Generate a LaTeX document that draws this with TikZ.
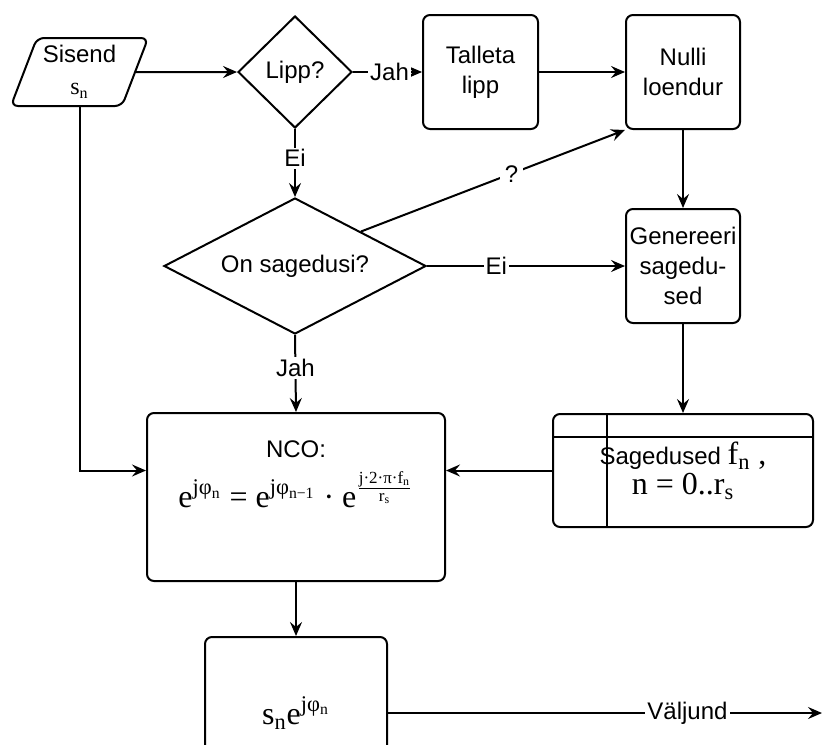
\documentclass[tikz,border=0pt]{standalone}
\usepackage{fontspec}
\setmainfont{Liberation Sans}
\newfontfamily\tms{Liberation Serif}
\usetikzlibrary{shapes.geometric, arrows.meta}

\tikzset{
  box/.style={draw, line width=1pt, rounded corners=3.5pt, align=center, inner sep=1pt},
  decision/.style={draw, line width=1pt, diamond, inner sep=0pt, align=center},
  flow/.style={line width=1pt, -{Stealth[length=7pt,width=6pt,inset=2.5pt]}},
  lbl/.style={fill=white, inner sep=1pt, font=\fontsize{12}{14}\selectfont},
}
\newcommand{\serif}[1]{{\tms\fontsize{16}{18}\selectfont #1}}

\begin{document}
\begin{tikzpicture}[x=0.5pt, y=-0.5pt, font=\fontsize{12}{15}\selectfont]
  \useasboundingbox (0,0) rectangle (823,744);
  \clip (0,0) rectangle (823,744);

  % top row
  \node[draw, line width=1pt, trapezium, trapezium left angle=69, trapezium right angle=111,
        rounded corners=3.5pt, minimum height=34pt, inner xsep=-1.75pt, inner ysep=0pt, align=center]
        (sisend) at (79.5,72) {Sisend\\[1pt]{\tms s\textsubscript{n}}};
  \node[decision, minimum width=57pt, minimum height=56pt] (lipp) at (295,72) {Lipp?};
  \node[box, minimum width=57.5pt, minimum height=57pt] (talleta) at (480.5,72) {Talleta\\lipp};
  \node[box, minimum width=57pt, minimum height=57pt] (nulli) at (683,72) {Nulli\\loendur};

  % middle row
  \node[decision, aspect=1.93, minimum width=131pt, minimum height=68pt] (ons) at (295,266) {On sagedusi?};
  \node[box, minimum width=57pt, minimum height=57pt] (gen) at (683,266) {Genereeri\\sagedu-\\sed};

  % NCO and frequency table
  \node[box, minimum width=149pt, minimum height=84pt] (nco) at (296,497)
    {NCO:\\[6pt]\serif{e\textsuperscript{jφ\textsubscript{n}} = e\textsuperscript{jφ\textsubscript{n−1}} · e$^{\frac{\mbox{\tms\fontsize{8.5}{9}\selectfont j·2·π·f\textsubscript{n}}}{\mbox{\tms\fontsize{8.5}{9}\selectfont r\textsubscript{s}}}}$}\rule[-23pt]{0pt}{23pt}};
  \node[box, minimum width=130pt, minimum height=56.5pt] (sag) at (683,470.5)
    {Sagedused \serif{f\textsubscript{n} ,}\\\serif{n = 0..r\textsubscript{s}}};
  \draw[line width=1pt] ([yshift=-12pt]sag.north west) -- ([yshift=-12pt]sag.north east);
  \draw[line width=1pt] ([xshift=27.5pt]sag.north west) -- ([xshift=27.5pt]sag.south west);

  % output
  \node[box, minimum width=91pt, minimum height=76pt] (out) at (296,713) {\serif{s\textsubscript{n}e\textsuperscript{jφ\textsubscript{n}}}};
  \coordinate (end) at (822,713);

  % connectors
  \draw[flow] (sisend.east) -- (lipp.west);
  \draw[flow] (lipp.east) -- node[lbl, pos=0.53]{Jah} (talleta.west);
  \draw[flow] (talleta.east) -- (nulli.west);
  \draw[flow] (lipp.south) -- node[lbl, pos=0.43]{Ei} (ons.north);
  \draw[flow] (ons.north east) -- node[lbl, inner xsep=2.5pt, inner ysep=4pt, pos=0.57]{?} (nulli.south west);
  \draw[flow] (ons.east) -- node[lbl, pos=0.35]{Ei} (gen.west);
  \draw[flow] (nulli.south) -- (gen.north);
  \draw[flow] (gen.south) -- (sag.north);
  \draw[flow] (sag.west) -- (sag.west -| nco.east);
  \draw[flow] (ons.south) -- node[lbl, pos=0.43]{Jah} (nco.north);
  \draw[flow] (sisend.center |- sisend.south) |- (nco.west |- sag.west);
  \draw[flow] (nco.south) -- (out.north);
  \draw[flow] (out.east) -- node[lbl, pos=0.69]{Väljund} (end);
\end{tikzpicture}
\end{document}
